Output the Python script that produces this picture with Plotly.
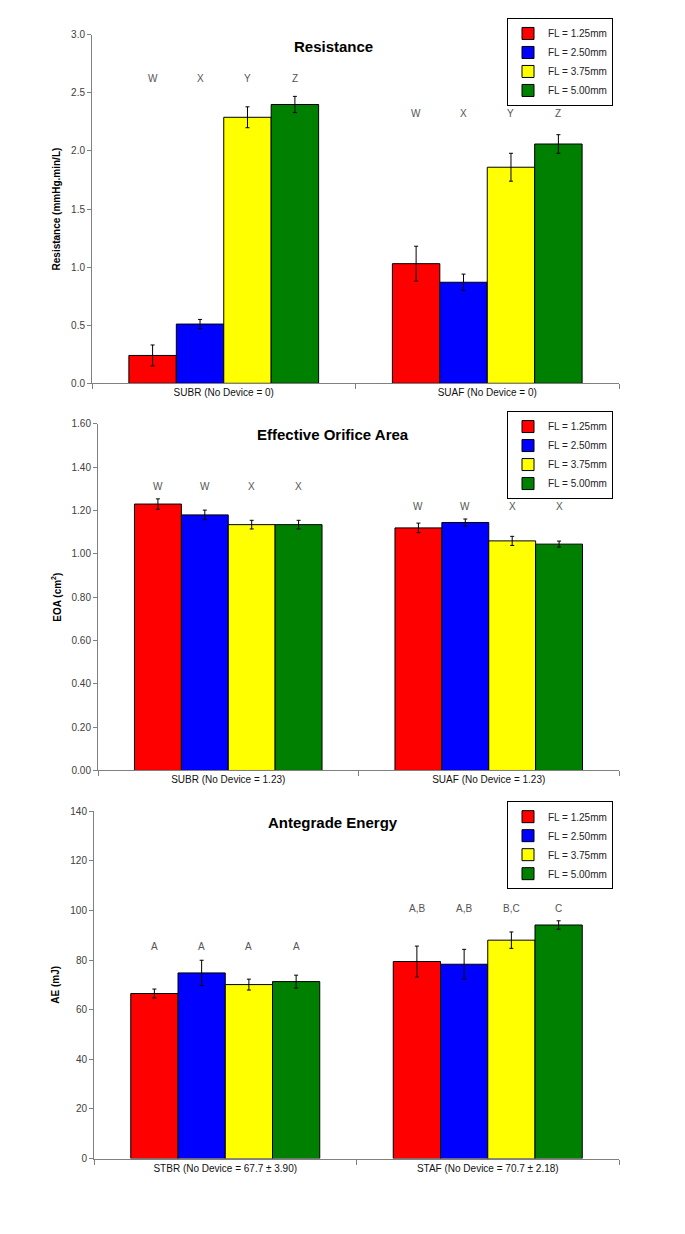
"""
Flow-limiter study – three stacked grouped bar panels
Resistance / Effective Orifice Area / Antegrade Energy, one bar per FL setting
"""
import plotly.graph_objects as go

# ── data ────────────────────────────────────────────────
SERIES = ["FL = 1.25mm", "FL = 2.50mm", "FL = 3.75mm", "FL = 5.00mm"]
COLORS = ["#FF0000", "#0000FF", "#FFFF00", "#008000"]

# Resistance – values/errors listed per series, across the two categories
RES_CATS = ["SUBR (No Device = 0)", "SUAF (No Device = 0)"]
RES_VALS = [[0.24, 1.03], [0.51, 0.87], [2.29, 1.86], [2.40, 2.06]]
RES_ERR = [[0.09, 0.15], [0.04, 0.07], [0.09, 0.12], [0.07, 0.08]]
RES_LETTERS = [["W", "X", "Y", "Z"], ["W", "X", "Y", "Z"]]

# Effective orifice area
EOA_CATS = ["SUBR (No Device = 1.23)", "SUAF (No Device = 1.23)"]
EOA_VALS = [[1.23, 1.12], [1.18, 1.145], [1.135, 1.06], [1.135, 1.045]]
EOA_ERR = [[0.024, 0.022], [0.022, 0.016], [0.02, 0.021], [0.02, 0.014]]
EOA_LETTERS = [["W", "W", "X", "X"], ["W", "W", "X", "X"]]

# Antegrade energy
AE_CATS = ["STBR (No Device = 67.7 ± 3.90)", "STAF (No Device = 70.7 ± 2.18)"]
AE_VALS = [[66.5, 79.4], [74.8, 78.3], [70.1, 88.0], [71.3, 94.1]]
AE_ERR = [[1.8, 6.2], [5.1, 6.0], [2.2, 3.3], [2.6, 1.7]]
AE_LETTERS = [["A", "A", "A", "A"], ["A,B", "A,B", "B,C", "C"]]

# ── theme / geometry ────────────────────────────────────
# the page body keeps its default 8px margin, so work in window pixels
# and shift everything back by that amount
PAGE_W, PAGE_H, BODY = 685, 1234, 8
W, H = PAGE_W - 2 * BODY, PAGE_H - 2 * BODY
FONT = "Liberation Sans, Arial, sans-serif"
AXIS_GREY = "#808080"
BARGAP = 0.28


def px_x(p):
    return (p - BODY) / W


def px_y(p):
    return 1 - (p - BODY) / H


PANELS = [
    dict(cats=RES_CATS, vals=RES_VALS, errs=RES_ERR, letters=RES_LETTERS,
         title="Resistance", ytitle="Resistance (mmHg.min/L)",
         yrange=[0, 3.0], dtick=0.5, fmt=".1f",
         left=92, top=29, bottom=381, title_y=41, legend_top=12,
         letter_y=[2.62, 2.32]),
    dict(cats=EOA_CATS, vals=EOA_VALS, errs=EOA_ERR, letters=EOA_LETTERS,
         title="Effective Orifice Area", ytitle="EOA (cm<sup>2</sup>)",
         yrange=[0, 1.6], dtick=0.2, fmt=".2f",
         left=98, top=422, bottom=772, title_y=433, legend_top=409,
         letter_y=[1.311, 1.22]),
    dict(cats=AE_CATS, vals=AE_VALS, errs=AE_ERR, letters=AE_LETTERS,
         title="Antegrade Energy", ytitle="AE (mJ)",
         yrange=[0, 140], dtick=20, fmt="d",
         left=94, top=813, bottom=1164, title_y=825, legend_top=803,
         letter_y=[85.4, 100.7]),
]

fig = go.Figure()
layout = {}
annotations = []
n = len(SERIES)
bw = (1 - BARGAP) / n

for p, P in enumerate(PANELS, start=1):
    sfx = "" if p == 1 else str(p)
    leg = "legend" if p == 1 else f"legend{p}"

    for k, name in enumerate(SERIES):
        fig.add_trace(go.Bar(
            x=P["cats"], y=P["vals"][k], name=name,
            marker=dict(color=COLORS[k], line=dict(color="#000000", width=1)),
            error_y=dict(type="data", array=P["errs"][k], visible=True,
                         color="#000000", thickness=1, width=2),
            xaxis=f"x{sfx}", yaxis=f"y{sfx}", legend=leg,
        ))

    layout[f"xaxis{sfx}"] = dict(
        domain=[px_x(P["left"]), px_x(619)], anchor=f"y{sfx}",
        showline=True, linecolor=AXIS_GREY, linewidth=1,
        ticks="outside", tickson="boundaries", ticklen=5, tickcolor=AXIS_GREY,
        tickfont=dict(size=10, color="#111111", family=FONT),
        showgrid=False, fixedrange=True,
    )
    layout[f"yaxis{sfx}"] = dict(
        domain=[px_y(P["bottom"]), px_y(P["top"])], anchor=f"x{sfx}",
        range=P["yrange"], dtick=P["dtick"], tickformat=P["fmt"],
        showline=True, linecolor=AXIS_GREY, linewidth=1,
        ticks="outside", ticklen=4, tickcolor=AXIS_GREY,
        tickfont=dict(size=10, color="#404040", family=FONT),
        showgrid=False, zeroline=False,
        title=dict(text=f"<b>{P['ytitle']}</b>", standoff=8,
                   font=dict(size=10, color="#000000", family=FONT)),
    )
    layout[leg] = dict(
        x=px_x(613), xanchor="right", y=px_y(P["legend_top"]), yanchor="top",
        bordercolor="#000000", borderwidth=1, bgcolor="#FFFFFF",
        font=dict(size=10, color="#222222", family=FONT),
        itemwidth=30, tracegroupgap=0,
    )

    # panel title
    annotations.append(dict(
        text=f"<b>{P['title']}</b>", xref="paper", yref="paper",
        x=px_x(333), y=px_y(P["title_y"]), xanchor="center", yanchor="middle",
        showarrow=False, font=dict(size=15, color="#000000", family=FONT),
    ))

    # significance letters above each bar
    for c, row in enumerate(P["letters"]):
        for k, txt in enumerate(row):
            annotations.append(dict(
                text=txt, xref=f"x{sfx}", yref=f"y{sfx}",
                x=c - (1 - BARGAP) / 2 + (k + 0.5) * bw, y=P["letter_y"][c],
                showarrow=False, font=dict(size=10, color="#555555", family=FONT),
            ))

fig.update_layout(
    **layout,
    annotations=annotations,
    barmode="group", bargap=BARGAP, bargroupgap=0,
    width=W, height=H, margin=dict(l=0, r=0, t=0, b=0),
    paper_bgcolor="#FFFFFF", plot_bgcolor="#FFFFFF",
    font=dict(family=FONT, color="#222222"),
)

fig.write_html("out.html")
